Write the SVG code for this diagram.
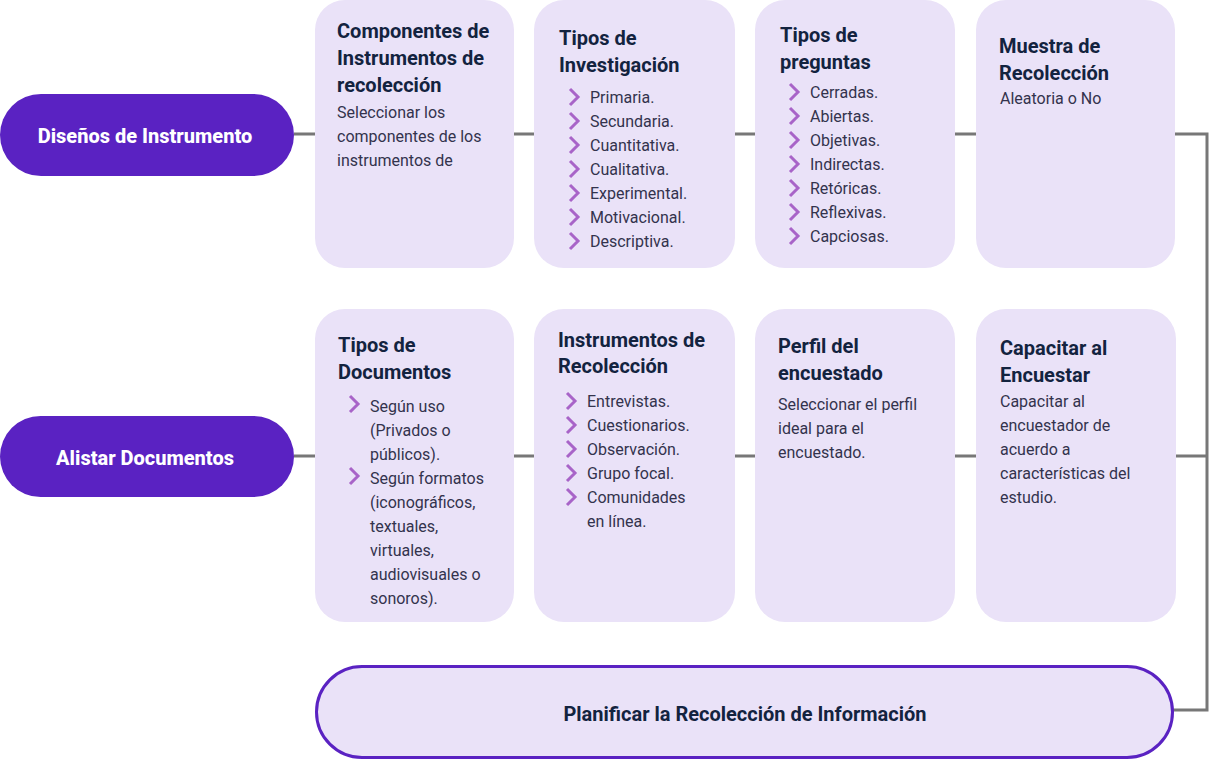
<svg xmlns="http://www.w3.org/2000/svg" width="1210" height="760" viewBox="0 0 1210 760">
<defs>
<style>
.card{fill:#EAE2F8}
.pill{fill:#5A22C2}
.plan{fill:#EAE2F8;stroke:#5A22C2;stroke-width:3}
.pt{font-family:Roboto,"Liberation Sans",sans-serif;font-weight:800;font-size:20px;fill:#FFFFFF;text-anchor:middle}
.t{font-family:Roboto,"Liberation Sans",sans-serif;font-weight:700;font-size:20px;fill:#13233F}
.b{font-family:Roboto,"Liberation Sans",sans-serif;font-size:16px;fill:#33334D}
.c{fill:none;stroke:#777777;stroke-width:3}
.ch{fill:none;stroke:#A864C8;stroke-width:3;stroke-linejoin:miter}
</style>
<path id="chev" d="M0,-8 L8,0 L0,8"/>
</defs>
<g id="connectors">
<path class="c" d="M294,134 H315 M514,134 H534 M735,134 H755 M955,134 H976 M1175,134 H1207 V710 H1172"/>
<path class="c" d="M294,456 H315 M514,456 H534 M735,456 H755 M955,456 H976 M1175,456 H1207"/>
</g>
<g id="n-disenos">
<rect class="pill" x="0" y="94" width="294" height="82" rx="41"/>
<text class="pt" x="145" y="143">Diseños de Instrumento</text>
</g>
<g id="n-alistar">
<rect class="pill" x="0" y="416" width="294" height="81" rx="40.5"/>
<text class="pt" x="145" y="465">Alistar Documentos</text>
</g>
<g id="n-componentes">
<rect class="card" x="315" y="0" width="199" height="268" rx="30"/>
<text class="t" x="337" y="38">Componentes de</text>
<text class="t" x="337" y="65">Instrumentos de</text>
<text class="t" x="337" y="92">recolección</text>
<text class="b" x="337" y="118">Seleccionar los</text>
<text class="b" x="337" y="142">componentes de los</text>
<text class="b" x="337" y="166">instrumentos de</text>
</g>
<g id="n-tipos-investigacion">
<rect class="card" x="534" y="0" width="201" height="268" rx="30"/>
<text class="t" x="559" y="45">Tipos de</text>
<text class="t" x="559" y="72">Investigación</text>
<use href="#chev" class="ch" x="570" y="97"/><text class="b" x="590" y="103">Primaria.</text>
<use href="#chev" class="ch" x="570" y="121"/><text class="b" x="590" y="127">Secundaria.</text>
<use href="#chev" class="ch" x="570" y="145"/><text class="b" x="590" y="151">Cuantitativa.</text>
<use href="#chev" class="ch" x="570" y="169"/><text class="b" x="590" y="175">Cualitativa.</text>
<use href="#chev" class="ch" x="570" y="193"/><text class="b" x="590" y="199">Experimental.</text>
<use href="#chev" class="ch" x="570" y="217"/><text class="b" x="590" y="223">Motivacional.</text>
<use href="#chev" class="ch" x="570" y="241"/><text class="b" x="590" y="247">Descriptiva.</text>
</g>
<g id="n-tipos-preguntas">
<rect class="card" x="755" y="0" width="200" height="268" rx="30"/>
<text class="t" x="780" y="42">Tipos de</text>
<text class="t" x="780" y="69">preguntas</text>
<use href="#chev" class="ch" x="790" y="92"/><text class="b" x="810" y="98">Cerradas.</text>
<use href="#chev" class="ch" x="790" y="116"/><text class="b" x="810" y="122">Abiertas.</text>
<use href="#chev" class="ch" x="790" y="140"/><text class="b" x="810" y="146">Objetivas.</text>
<use href="#chev" class="ch" x="790" y="164"/><text class="b" x="810" y="170">Indirectas.</text>
<use href="#chev" class="ch" x="790" y="188"/><text class="b" x="810" y="194">Retóricas.</text>
<use href="#chev" class="ch" x="790" y="212"/><text class="b" x="810" y="218">Reflexivas.</text>
<use href="#chev" class="ch" x="790" y="236"/><text class="b" x="810" y="242">Capciosas.</text>
</g>
<g id="n-muestra">
<rect class="card" x="976" y="0" width="199" height="268" rx="30"/>
<text class="t" x="999" y="53">Muestra de</text>
<text class="t" x="999" y="80">Recolección</text>
<text class="b" x="1000" y="104">Aleatoria o No</text>
</g>
<g id="n-tipos-documentos">
<rect class="card" x="315" y="309" width="199" height="313" rx="30"/>
<text class="t" x="338" y="352">Tipos de</text>
<text class="t" x="338" y="379">Documentos</text>
<use href="#chev" class="ch" x="350" y="404"/><text class="b" x="370" y="412">Según uso</text>
<text class="b" x="370" y="436">(Privados o</text>
<text class="b" x="370" y="460">públicos).</text>
<use href="#chev" class="ch" x="350" y="476"/><text class="b" x="370" y="484">Según formatos</text>
<text class="b" x="370" y="508">(iconográficos,</text>
<text class="b" x="370" y="532">textuales,</text>
<text class="b" x="370" y="556">virtuales,</text>
<text class="b" x="370" y="580">audiovisuales o</text>
<text class="b" x="370" y="604">sonoros).</text>
</g>
<g id="n-instrumentos">
<rect class="card" x="534" y="309" width="201" height="313" rx="30"/>
<text class="t" x="558" y="347">Instrumentos de</text>
<text class="t" x="558" y="373">Recolección</text>
<use href="#chev" class="ch" x="567" y="401"/><text class="b" x="587" y="407">Entrevistas.</text>
<use href="#chev" class="ch" x="567" y="425"/><text class="b" x="587" y="431">Cuestionarios.</text>
<use href="#chev" class="ch" x="567" y="449"/><text class="b" x="587" y="455">Observación.</text>
<use href="#chev" class="ch" x="567" y="473"/><text class="b" x="587" y="479">Grupo focal.</text>
<use href="#chev" class="ch" x="567" y="497"/><text class="b" x="587" y="503">Comunidades</text>
<text class="b" x="587" y="527">en línea.</text>
</g>
<g id="n-perfil">
<rect class="card" x="755" y="309" width="200" height="313" rx="30"/>
<text class="t" x="778" y="353">Perfil del</text>
<text class="t" x="778" y="380">encuestado</text>
<text class="b" x="778" y="410">Seleccionar el perfil</text>
<text class="b" x="778" y="434">ideal para el</text>
<text class="b" x="778" y="458">encuestado.</text>
</g>
<g id="n-capacitar">
<rect class="card" x="976" y="309" width="200" height="313" rx="30"/>
<text class="t" x="1000" y="355">Capacitar al</text>
<text class="t" x="1000" y="382">Encuestar</text>
<text class="b" x="1000" y="407">Capacitar al</text>
<text class="b" x="1000" y="431">encuestador de</text>
<text class="b" x="1000" y="455">acuerdo a</text>
<text class="b" x="1000" y="479">características del</text>
<text class="b" x="1000" y="503">estudio.</text>
</g>
<g id="n-planificar">
<rect class="plan" x="316.5" y="666.5" width="856" height="91" rx="45.5"/>
<text class="t" x="745" y="721" text-anchor="middle">Planificar la Recolección de Información</text>
</g>
</svg>
